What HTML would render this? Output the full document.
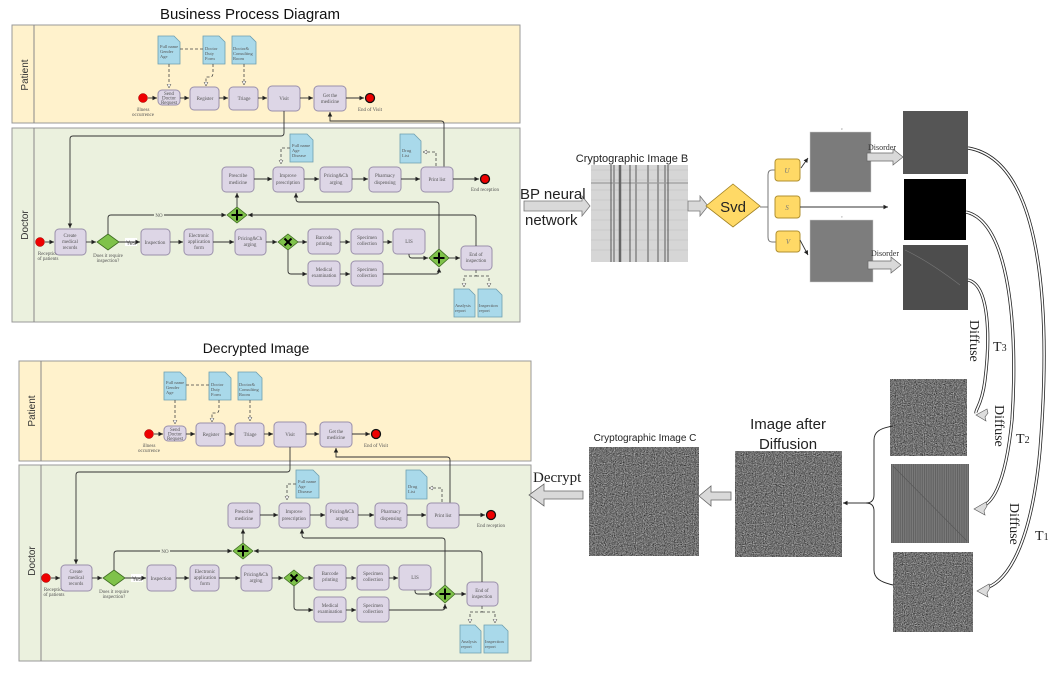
<!DOCTYPE html>
<html><head><meta charset="utf-8"><style>
html,body{margin:0;padding:0;background:#fff;}
svg{display:block;font-family:"Liberation Serif",serif;}
.s{font-family:"Liberation Sans",sans-serif;}
.b{fill:#ddd6e6;stroke:#9a90ab;stroke-width:1;}
.d{fill:#a9d9ea;stroke:#6e9fb0;stroke-width:.8;}
.t{font-size:5px;fill:#555;text-anchor:middle;}
.l{stroke:#333;stroke-width:.9;fill:none;}
.dl{stroke:#444;stroke-width:.8;fill:none;stroke-dasharray:3,2;}
.g{fill:#7fc24a;stroke:#3d6b20;stroke-width:.8;}
</style></head><body>
<svg width="1062" height="675" viewBox="0 0 1062 675" xmlns="http://www.w3.org/2000/svg">
<defs>
<marker id="a" markerWidth="6" markerHeight="6" refX="5" refY="3" orient="auto"><path d="M0,0.5 L5,3 L0,5.5z" fill="#222"/></marker>
<marker id="o" markerWidth="6" markerHeight="6" refX="5" refY="3" orient="auto"><path d="M0,0.5 L5,3 L0,5.5z" fill="#fff" stroke="#333" stroke-width=".6"/></marker>
<filter id="n" x="0" y="0" width="100%" height="100%" color-interpolation-filters="sRGB"><feTurbulence type="fractalNoise" baseFrequency="0.9" numOctaves="2" seed="3"/><feColorMatrix type="matrix" values="0.33 0.33 0.33 0 0 0.33 0.33 0.33 0 0 0.33 0.33 0.33 0 0 0 0 0 0 1"/><feComponentTransfer><feFuncR type="linear" slope="1.4" intercept="-0.25"/><feFuncG type="linear" slope="1.4" intercept="-0.25"/><feFuncB type="linear" slope="1.4" intercept="-0.25"/></feComponentTransfer></filter>
<pattern id="st" width="2.2" height="10" patternUnits="userSpaceOnUse"><rect width="2.2" height="10" fill="#7a7a7a"/><rect width="1" height="10" fill="#606060"/></pattern>
</defs>

<!-- ============ TOP DIAGRAM ============ -->
<text x="250" y="19" class="s" font-size="15" text-anchor="middle" fill="#111">Business Process Diagram</text>
<g>
<rect x="12" y="25" width="508" height="98" fill="#fff2cc" stroke="#999" stroke-width="1"/>
<line x1="34" y1="25" x2="34" y2="123" stroke="#888"/>
<rect x="12" y="128" width="508" height="194" fill="#ebf1de" stroke="#999" stroke-width="1"/>
<line x1="34" y1="128" x2="34" y2="322" stroke="#888"/>
<text transform="translate(28,75) rotate(-90)" class="s" font-size="10" text-anchor="middle" fill="#333">Patient</text>
<text transform="translate(28,225) rotate(-90)" class="s" font-size="10" text-anchor="middle" fill="#333">Doctor</text>
<path class="d" d="M158,36 h16 l6,6 v22 h-22z"/><text x="160" y="48" font-size="4.5" fill="#555">Full name</text><text x="160" y="53" font-size="4.5" fill="#555">Gender</text><text x="160" y="58" font-size="4.5" fill="#555">Age</text>
<path class="d" d="M203,36 h16 l6,6 v22 h-22z"/><text x="205" y="50" font-size="4.5" fill="#555">Doctor</text><text x="205" y="55" font-size="4.5" fill="#555">Duty</text><text x="205" y="60" font-size="4.5" fill="#555">Form</text>
<path class="d" d="M232,36 h18 l6,6 v22 h-24z"/><text x="233" y="50" font-size="4.5" fill="#555">Doctor&amp;</text><text x="233" y="55" font-size="4.5" fill="#555">Consulting</text><text x="233" y="60" font-size="4.5" fill="#555">Room</text>
<path class="dl" d="M169,64 V88" marker-end="url(#o)"/><path class="dl" d="M180,49 H203"/><path class="dl" d="M213,64 V73 Q213,77 210,77 H206 V86" marker-end="url(#o)"/><path class="dl" d="M244,64 V85" marker-end="url(#o)"/>
<circle cx="143" cy="98" r="4.5" fill="#e00" stroke="#900" stroke-width=".5"/>
<text x="143" y="111" class="t">illness</text><text x="143" y="116" class="t">occurrence</text>
<rect class="b" x="158" y="90" width="22" height="15" rx="4"/><text x="169" y="95" class="t">Send</text><text x="169" y="99.5" class="t">Doctor</text><text x="169" y="104" class="t">Request</text>
<rect class="b" x="190" y="87" width="29" height="23" rx="4"/><text x="205" y="100" class="t">Register</text>
<rect class="b" x="229" y="87" width="29" height="23" rx="4"/><text x="244" y="100" class="t">Triage</text>
<rect class="b" x="268" y="86" width="32" height="25" rx="4"/><text x="284" y="100" class="t">Visit</text>
<rect class="b" x="314" y="86" width="32" height="25" rx="4"/><text x="330" y="97" class="t">Get the</text><text x="330" y="103" class="t">medicine</text>
<circle cx="370" cy="98" r="4.5" fill="#e00" stroke="#111" stroke-width="1.3"/><text x="370" y="111" class="t">End of Visit</text>
<path class="l" d="M148,98 H157" marker-end="url(#a)"/><path class="l" d="M180,98 H189" marker-end="url(#a)"/><path class="l" d="M219,98 H228" marker-end="url(#a)"/><path class="l" d="M258,98 H267" marker-end="url(#a)"/><path class="l" d="M300,98 H313" marker-end="url(#a)"/><path class="l" d="M346,98 H364" marker-end="url(#a)"/>
<path class="l" d="M284,111 V133 Q284,136 281,136 H73 Q70,136 70,139 V228" marker-end="url(#a)"/>
<path class="l" d="M444,167 V124 Q444,121 441,121 H330 V112" marker-end="url(#a)"/>
<path class="d" d="M290,134 h17 l6,6 v22 h-23z"/><text x="292" y="147" font-size="4.5" fill="#555">Full name</text><text x="292" y="152" font-size="4.5" fill="#555">Age</text><text x="292" y="157" font-size="4.5" fill="#555">Disease</text>
<path class="d" d="M400,134 h14 l7,7 v22 h-21z"/><text x="402" y="152" font-size="4.5" fill="#555">Drug</text><text x="402" y="157" font-size="4.5" fill="#555">List</text>
<path class="dl" d="M290,148 H281 V164" marker-end="url(#o)"/><path class="dl" d="M436,166 V152 H423" marker-end="url(#o)"/>
<rect class="b" x="222" y="167" width="32" height="25" rx="4"/><text x="238" y="177" class="t">Prescribe</text><text x="238" y="184" class="t">medicine</text>
<rect class="b" x="273" y="167" width="31" height="25" rx="4"/><text x="288" y="177" class="t">Improve</text><text x="288" y="184" class="t">prescription</text>
<rect class="b" x="320" y="167" width="32" height="25" rx="4"/><text x="336" y="177" class="t">Pricing&amp;Ch</text><text x="336" y="184" class="t">arging</text>
<rect class="b" x="369" y="167" width="32" height="25" rx="4"/><text x="385" y="177" class="t">Pharmacy</text><text x="385" y="184" class="t">dispensing</text>
<rect class="b" x="421" y="167" width="32" height="25" rx="4"/><text x="437" y="181" class="t">Print list</text>
<circle cx="485" cy="179" r="4.5" fill="#e00" stroke="#111" stroke-width="1.3"/><text x="485" y="191" class="t">End reception</text>
<path class="l" d="M254,179 H272" marker-end="url(#a)"/><path class="l" d="M304,179 H319" marker-end="url(#a)"/><path class="l" d="M352,179 H368" marker-end="url(#a)"/><path class="l" d="M401,179 H420" marker-end="url(#a)"/><path class="l" d="M453,179 H479" marker-end="url(#a)"/>
<circle cx="40" cy="242" r="4.5" fill="#e00" stroke="#900" stroke-width=".5"/><text x="48" y="255" class="t">Reception</text><text x="48" y="260" class="t">of patients</text>
<rect class="b" x="55" y="229" width="31" height="26" rx="4"/><text x="70" y="237" class="t">Create</text><text x="70" y="243" class="t">medical</text><text x="70" y="249" class="t">records</text>
<path class="g" d="M108,234 L119,242 L108,250 L97,242z"/><text x="108" y="257" class="t">Does it require</text><text x="108" y="262" class="t">inspection?</text>
<rect x="125" y="238" width="12" height="8" fill="#fff"/><text x="131" y="245" class="s" font-size="6" text-anchor="middle" fill="#555">Yes</text>
<rect class="b" x="141" y="229" width="29" height="26" rx="4"/><text x="155" y="244" class="t">Inspection</text>
<rect class="b" x="184" y="229" width="29" height="26" rx="4"/><text x="199" y="237" class="t">Electronic</text><text x="199" y="243" class="t">application</text><text x="199" y="249" class="t">form</text>
<rect class="b" x="235" y="229" width="31" height="26" rx="4"/><text x="250" y="240" class="t">Pricing&amp;Ch</text><text x="250" y="246" class="t">arging</text>
<path class="g" d="M288,234 L298,242 L288,250 L278,242z"/><path d="M284.5,238.5 L291.5,245.5 M291.5,238.5 L284.5,245.5" stroke="#000" stroke-width="2"/>
<rect class="b" x="308" y="229" width="32" height="25" rx="4"/><text x="324" y="239" class="t">Barcode</text><text x="324" y="245" class="t">printing</text>
<rect class="b" x="351" y="229" width="32" height="25" rx="4"/><text x="367" y="239" class="t">Specimen</text><text x="367" y="245" class="t">collection</text>
<rect class="b" x="393" y="229" width="32" height="25" rx="4"/><text x="409" y="243" class="t">LIS</text>
<rect class="b" x="308" y="261" width="32" height="25" rx="4"/><text x="324" y="271" class="t">Medical</text><text x="324" y="277" class="t">examination</text>
<rect class="b" x="351" y="261" width="32" height="25" rx="4"/><text x="367" y="271" class="t">Specimen</text><text x="367" y="277" class="t">collection</text>
<path class="g" d="M439,249 L449,258 L439,267 L429,258z"/><path d="M439,252.5 V263.5 M433.5,258 H444.5" stroke="#000" stroke-width="2"/>
<rect class="b" x="461" y="246" width="31" height="24" rx="4"/><text x="476" y="256" class="t">End of</text><text x="476" y="262" class="t">inspection</text>
<path class="g" d="M237,207 L247,215 L237,223 L227,215z"/><path d="M237,209.5 V220.5 M231.5,215 H242.5" stroke="#000" stroke-width="2"/>
<path class="l" d="M45,242 H54" marker-end="url(#a)"/><path class="l" d="M86,242 H96" marker-end="url(#a)"/><path class="l" d="M119,242 H140" marker-end="url(#a)"/><path class="l" d="M170,242 H183" marker-end="url(#a)"/><path class="l" d="M213,242 H234" marker-end="url(#a)"/><path class="l" d="M266,242 H277" marker-end="url(#a)"/><path class="l" d="M298,242 H307" marker-end="url(#a)"/><path class="l" d="M340,242 H350" marker-end="url(#a)"/><path class="l" d="M383,242 H392" marker-end="url(#a)"/>
<path class="l" d="M288,250 V271 Q288,274 291,274 H307" marker-end="url(#a)"/><path class="l" d="M340,274 H350" marker-end="url(#a)"/>
<path class="l" d="M383,274 H436 Q439,274 439,271 V268" marker-end="url(#a)"/><path class="l" d="M409,254 V255 Q409,258 412,258 H428" marker-end="url(#a)"/><path class="l" d="M449,258 H460" marker-end="url(#a)"/>
<path class="l" d="M108,234 V218 Q108,215 111,215 H226" marker-end="url(#a)"/><rect x="154" y="211" width="10" height="7" fill="#ebf1de"/><text x="159" y="217" class="t">NO</text>
<path class="l" d="M476,246 V218 Q476,215 473,215 H248" marker-end="url(#a)"/>
<path class="l" d="M439,249 V205 Q439,202 436,202 H299 Q296,202 296,199 V193" marker-end="url(#a)"/>
<path class="l" d="M237,207 V193" marker-end="url(#a)"/>
<path class="d" d="M454,289 h15 l6,6 v22 h-21z"/><text x="455" y="307" font-size="4.5" fill="#555">Analysis</text><text x="455" y="312" font-size="4.5" fill="#555">report</text>
<path class="d" d="M478,289 h18 l6,6 v22 h-24z"/><text x="479" y="307" font-size="4.5" fill="#555">Inspection</text><text x="479" y="312" font-size="4.5" fill="#555">report</text>
<path class="dl" d="M476,270 V276 H464 V287" marker-end="url(#o)"/><path class="dl" d="M476,276 H489 V287" marker-end="url(#o)"/>
</g>

<!-- ============ BOTTOM DIAGRAM ============ -->
<text x="256" y="353" class="s" font-size="14" text-anchor="middle" fill="#111">Decrypted Image</text>
<g transform="translate(6,336)">
<rect x="13" y="25" width="512" height="100" fill="#fff2cc" stroke="#999" stroke-width="1"/>
<line x1="35" y1="25" x2="35" y2="125" stroke="#888"/>
<rect x="13" y="129" width="512" height="196" fill="#ebf1de" stroke="#999" stroke-width="1"/>
<line x1="35" y1="129" x2="35" y2="325" stroke="#888"/>
<text transform="translate(29,75) rotate(-90)" class="s" font-size="10" text-anchor="middle" fill="#333">Patient</text>
<text transform="translate(29,225) rotate(-90)" class="s" font-size="10" text-anchor="middle" fill="#333">Doctor</text>
<path class="d" d="M158,36 h16 l6,6 v22 h-22z"/><text x="160" y="48" font-size="4.5" fill="#555">Full name</text><text x="160" y="53" font-size="4.5" fill="#555">Gender</text><text x="160" y="58" font-size="4.5" fill="#555">Age</text>
<path class="d" d="M203,36 h16 l6,6 v22 h-22z"/><text x="205" y="50" font-size="4.5" fill="#555">Doctor</text><text x="205" y="55" font-size="4.5" fill="#555">Duty</text><text x="205" y="60" font-size="4.5" fill="#555">Form</text>
<path class="d" d="M232,36 h18 l6,6 v22 h-24z"/><text x="233" y="50" font-size="4.5" fill="#555">Doctor&amp;</text><text x="233" y="55" font-size="4.5" fill="#555">Consulting</text><text x="233" y="60" font-size="4.5" fill="#555">Room</text>
<path class="dl" d="M169,64 V88" marker-end="url(#o)"/><path class="dl" d="M180,49 H203"/><path class="dl" d="M213,64 V73 Q213,77 210,77 H206 V86" marker-end="url(#o)"/><path class="dl" d="M244,64 V85" marker-end="url(#o)"/>
<circle cx="143" cy="98" r="4.5" fill="#e00" stroke="#900" stroke-width=".5"/>
<text x="143" y="111" class="t">illness</text><text x="143" y="116" class="t">occurrence</text>
<rect class="b" x="158" y="90" width="22" height="15" rx="4"/><text x="169" y="95" class="t">Send</text><text x="169" y="99.5" class="t">Doctor</text><text x="169" y="104" class="t">Request</text>
<rect class="b" x="190" y="87" width="29" height="23" rx="4"/><text x="205" y="100" class="t">Register</text>
<rect class="b" x="229" y="87" width="29" height="23" rx="4"/><text x="244" y="100" class="t">Triage</text>
<rect class="b" x="268" y="86" width="32" height="25" rx="4"/><text x="284" y="100" class="t">Visit</text>
<rect class="b" x="314" y="86" width="32" height="25" rx="4"/><text x="330" y="97" class="t">Get the</text><text x="330" y="103" class="t">medicine</text>
<circle cx="370" cy="98" r="4.5" fill="#e00" stroke="#111" stroke-width="1.3"/><text x="370" y="111" class="t">End of Visit</text>
<path class="l" d="M148,98 H157" marker-end="url(#a)"/><path class="l" d="M180,98 H189" marker-end="url(#a)"/><path class="l" d="M219,98 H228" marker-end="url(#a)"/><path class="l" d="M258,98 H267" marker-end="url(#a)"/><path class="l" d="M300,98 H313" marker-end="url(#a)"/><path class="l" d="M346,98 H364" marker-end="url(#a)"/>
<path class="l" d="M284,111 V133 Q284,136 281,136 H73 Q70,136 70,139 V228" marker-end="url(#a)"/>
<path class="l" d="M444,167 V124 Q444,121 441,121 H330 V112" marker-end="url(#a)"/>
<path class="d" d="M290,134 h17 l6,6 v22 h-23z"/><text x="292" y="147" font-size="4.5" fill="#555">Full name</text><text x="292" y="152" font-size="4.5" fill="#555">Age</text><text x="292" y="157" font-size="4.5" fill="#555">Disease</text>
<path class="d" d="M400,134 h14 l7,7 v22 h-21z"/><text x="402" y="152" font-size="4.5" fill="#555">Drug</text><text x="402" y="157" font-size="4.5" fill="#555">List</text>
<path class="dl" d="M290,148 H281 V164" marker-end="url(#o)"/><path class="dl" d="M436,166 V152 H423" marker-end="url(#o)"/>
<rect class="b" x="222" y="167" width="32" height="25" rx="4"/><text x="238" y="177" class="t">Prescribe</text><text x="238" y="184" class="t">medicine</text>
<rect class="b" x="273" y="167" width="31" height="25" rx="4"/><text x="288" y="177" class="t">Improve</text><text x="288" y="184" class="t">prescription</text>
<rect class="b" x="320" y="167" width="32" height="25" rx="4"/><text x="336" y="177" class="t">Pricing&amp;Ch</text><text x="336" y="184" class="t">arging</text>
<rect class="b" x="369" y="167" width="32" height="25" rx="4"/><text x="385" y="177" class="t">Pharmacy</text><text x="385" y="184" class="t">dispensing</text>
<rect class="b" x="421" y="167" width="32" height="25" rx="4"/><text x="437" y="181" class="t">Print list</text>
<circle cx="485" cy="179" r="4.5" fill="#e00" stroke="#111" stroke-width="1.3"/><text x="485" y="191" class="t">End reception</text>
<path class="l" d="M254,179 H272" marker-end="url(#a)"/><path class="l" d="M304,179 H319" marker-end="url(#a)"/><path class="l" d="M352,179 H368" marker-end="url(#a)"/><path class="l" d="M401,179 H420" marker-end="url(#a)"/><path class="l" d="M453,179 H479" marker-end="url(#a)"/>
<circle cx="40" cy="242" r="4.5" fill="#e00" stroke="#900" stroke-width=".5"/><text x="48" y="255" class="t">Reception</text><text x="48" y="260" class="t">of patients</text>
<rect class="b" x="55" y="229" width="31" height="26" rx="4"/><text x="70" y="237" class="t">Create</text><text x="70" y="243" class="t">medical</text><text x="70" y="249" class="t">records</text>
<path class="g" d="M108,234 L119,242 L108,250 L97,242z"/><text x="108" y="257" class="t">Does it require</text><text x="108" y="262" class="t">inspection?</text>
<rect x="125" y="238" width="12" height="8" fill="#fff"/><text x="131" y="245" class="s" font-size="6" text-anchor="middle" fill="#555">Yes</text>
<rect class="b" x="141" y="229" width="29" height="26" rx="4"/><text x="155" y="244" class="t">Inspection</text>
<rect class="b" x="184" y="229" width="29" height="26" rx="4"/><text x="199" y="237" class="t">Electronic</text><text x="199" y="243" class="t">application</text><text x="199" y="249" class="t">form</text>
<rect class="b" x="235" y="229" width="31" height="26" rx="4"/><text x="250" y="240" class="t">Pricing&amp;Ch</text><text x="250" y="246" class="t">arging</text>
<path class="g" d="M288,234 L298,242 L288,250 L278,242z"/><path d="M284.5,238.5 L291.5,245.5 M291.5,238.5 L284.5,245.5" stroke="#000" stroke-width="2"/>
<rect class="b" x="308" y="229" width="32" height="25" rx="4"/><text x="324" y="239" class="t">Barcode</text><text x="324" y="245" class="t">printing</text>
<rect class="b" x="351" y="229" width="32" height="25" rx="4"/><text x="367" y="239" class="t">Specimen</text><text x="367" y="245" class="t">collection</text>
<rect class="b" x="393" y="229" width="32" height="25" rx="4"/><text x="409" y="243" class="t">LIS</text>
<rect class="b" x="308" y="261" width="32" height="25" rx="4"/><text x="324" y="271" class="t">Medical</text><text x="324" y="277" class="t">examination</text>
<rect class="b" x="351" y="261" width="32" height="25" rx="4"/><text x="367" y="271" class="t">Specimen</text><text x="367" y="277" class="t">collection</text>
<path class="g" d="M439,249 L449,258 L439,267 L429,258z"/><path d="M439,252.5 V263.5 M433.5,258 H444.5" stroke="#000" stroke-width="2"/>
<rect class="b" x="461" y="246" width="31" height="24" rx="4"/><text x="476" y="256" class="t">End of</text><text x="476" y="262" class="t">inspection</text>
<path class="g" d="M237,207 L247,215 L237,223 L227,215z"/><path d="M237,209.5 V220.5 M231.5,215 H242.5" stroke="#000" stroke-width="2"/>
<path class="l" d="M45,242 H54" marker-end="url(#a)"/><path class="l" d="M86,242 H96" marker-end="url(#a)"/><path class="l" d="M119,242 H140" marker-end="url(#a)"/><path class="l" d="M170,242 H183" marker-end="url(#a)"/><path class="l" d="M213,242 H234" marker-end="url(#a)"/><path class="l" d="M266,242 H277" marker-end="url(#a)"/><path class="l" d="M298,242 H307" marker-end="url(#a)"/><path class="l" d="M340,242 H350" marker-end="url(#a)"/><path class="l" d="M383,242 H392" marker-end="url(#a)"/>
<path class="l" d="M288,250 V271 Q288,274 291,274 H307" marker-end="url(#a)"/><path class="l" d="M340,274 H350" marker-end="url(#a)"/>
<path class="l" d="M383,274 H436 Q439,274 439,271 V268" marker-end="url(#a)"/><path class="l" d="M409,254 V255 Q409,258 412,258 H428" marker-end="url(#a)"/><path class="l" d="M449,258 H460" marker-end="url(#a)"/>
<path class="l" d="M108,234 V218 Q108,215 111,215 H226" marker-end="url(#a)"/><rect x="154" y="211" width="10" height="7" fill="#ebf1de"/><text x="159" y="217" class="t">NO</text>
<path class="l" d="M476,246 V218 Q476,215 473,215 H248" marker-end="url(#a)"/>
<path class="l" d="M439,249 V205 Q439,202 436,202 H299 Q296,202 296,199 V193" marker-end="url(#a)"/>
<path class="l" d="M237,207 V193" marker-end="url(#a)"/>
<path class="d" d="M454,289 h15 l6,6 v22 h-21z"/><text x="455" y="307" font-size="4.5" fill="#555">Analysis</text><text x="455" y="312" font-size="4.5" fill="#555">report</text>
<path class="d" d="M478,289 h18 l6,6 v22 h-24z"/><text x="479" y="307" font-size="4.5" fill="#555">Inspection</text><text x="479" y="312" font-size="4.5" fill="#555">report</text>
<path class="dl" d="M476,270 V276 H464 V287" marker-end="url(#o)"/><path class="dl" d="M476,276 H489 V287" marker-end="url(#o)"/>
</g>

<!-- ============ RIGHT SIDE ============ -->
<path d="M524,201 H582 V196 L590,206 L582,216 V211 H524z" fill="#d9d9d9" stroke="#777" stroke-width=".8"/>
<text x="520" y="199" class="s" font-size="15" fill="#222">BP neural</text>
<text x="525" y="225" class="s" font-size="15" fill="#222">network</text>
<text x="632" y="162" class="s" font-size="11" text-anchor="middle" fill="#222">Cryptographic Image B</text>
<rect x="591" y="165" width="97" height="97" fill="#d6d6d6"/>
<g stroke="#bbb" stroke-width=".6">
<line x1="591" y1="170" x2="688" y2="170"/><line x1="591" y1="180" x2="688" y2="180"/><line x1="591" y1="190" x2="688" y2="190"/><line x1="591" y1="200" x2="688" y2="200"/><line x1="591" y1="210" x2="688" y2="210"/><line x1="591" y1="220" x2="688" y2="220"/><line x1="591" y1="230" x2="688" y2="230"/><line x1="591" y1="240" x2="688" y2="240"/><line x1="591" y1="250" x2="688" y2="250"/>
</g>
<line x1="591" y1="183" x2="688" y2="183" stroke="#777" stroke-width=".8"/>
<g stroke="#999" stroke-width="2"><line x1="614" y1="165" x2="614" y2="262"/><line x1="636" y1="165" x2="636" y2="262"/><line x1="648" y1="165" x2="648" y2="262"/><line x1="658" y1="165" x2="658" y2="262"/><line x1="665" y1="165" x2="665" y2="262"/></g>
<g stroke="#555" stroke-width="1"><line x1="611" y1="165" x2="611" y2="262"/><line x1="630" y1="165" x2="630" y2="262"/><line x1="668" y1="165" x2="668" y2="262"/></g>
<line x1="620" y1="165" x2="620" y2="262" stroke="#666" stroke-width="2.5"/>
<path d="M688,201 H700 V196 L708,206 L700,216 V211 H688z" fill="#d9d9d9" stroke="#777" stroke-width=".8"/>
<path d="M733,184 L760,206 L733,227 L706,206z" fill="#ffd966" stroke="#a08020" stroke-width=".8"/>
<text x="733" y="212" class="s" font-size="15" text-anchor="middle" fill="#222">Svd</text>
<path d="M760,207 H768" stroke="#777" fill="none"/>
<path d="M775,170 H772 Q768,170 768,175 V237 Q768,242 772,242 H776" stroke="#777" fill="none"/>
<rect x="775" y="159" width="25" height="22" rx="3" fill="#ffd966" stroke="#b09030"/><text x="787" y="173" font-size="7" font-style="italic" text-anchor="middle" fill="#777">U</text>
<rect x="775" y="196" width="25" height="22" rx="3" fill="#ffd966" stroke="#b09030"/><text x="787" y="210" font-size="7" font-style="italic" text-anchor="middle" fill="#777">S</text>
<rect x="776" y="231" width="24" height="21" rx="3" fill="#ffd966" stroke="#b09030"/><text x="788" y="244" font-size="7" font-style="italic" text-anchor="middle" fill="#777">V</text>
<path class="l" d="M801,168 L808,158" marker-end="url(#a)"/><path class="l" d="M800,240 L808,255" marker-end="url(#a)"/>
<path class="l" d="M800,207 H888" marker-end="url(#a)"/>
<rect x="810" y="132" width="61" height="60" fill="#7b7b7b" stroke="#ccc" stroke-width=".5"/>
<rect x="810" y="220" width="63" height="62" fill="#7d7d7d" stroke="#ccc" stroke-width=".5"/>
<text x="842" y="130" font-size="3" text-anchor="middle" fill="#888">U</text><text x="842" y="218" font-size="3" text-anchor="middle" fill="#888">V</text>
<path d="M867,153 H893 V149 L903,157 L893,165 V161 H867z" fill="#d9d9d9" stroke="#666" stroke-width=".7"/>
<text x="868" y="150" font-size="8" fill="#333">Disorder</text>
<path d="M868,261 H891 V257 L901,265 L891,273 V269 H868z" fill="#d9d9d9" stroke="#666" stroke-width=".7"/>
<text x="871" y="256" font-size="8" fill="#333">Disorder</text>
<rect x="903" y="111" width="65" height="63" fill="#555"/>
<rect x="904" y="179" width="62" height="61" fill="#000"/>
<rect x="903" y="245" width="65" height="65" fill="#4d4d4d"/>
<path d="M905,250 Q930,262 960,285" stroke="#777" stroke-width=".6" fill="none"/>
<g fill="none">
<path d="M968,148 C1040,160 1052,300 1040,450 C1030,560 1000,585 985,588" stroke="#222" stroke-width="3.2"/>
<path d="M968,148 C1040,160 1052,300 1040,450 C1030,560 1000,585 985,588" stroke="#fff" stroke-width="1.6"/>
<path d="M966,212 C1010,222 1018,330 1012,420 C1005,490 990,505 980,507" stroke="#222" stroke-width="3.2"/>
<path d="M966,212 C1010,222 1018,330 1012,420 C1005,490 990,505 980,507" stroke="#fff" stroke-width="1.6"/>
<path d="M968,280 C990,285 990,340 985,380 C982,405 975,410 976,413" stroke="#222" stroke-width="3.2"/>
<path d="M968,280 C990,285 990,340 985,380 C982,405 975,410 976,413" stroke="#fff" stroke-width="1.6"/>
</g>
<path d="M987,409 L976,415 L986,421 L985,417 L988,413z" fill="#ddd" stroke="#555" stroke-width=".6"/>
<path d="M986,502 L974,509 L985,515 L984,511 L987,506z" fill="#ddd" stroke="#555" stroke-width=".6"/>
<path d="M989,584 L977,591 L988,597 L987,593 L990,588z" fill="#ddd" stroke="#555" stroke-width=".6"/>
<text transform="translate(970,320) rotate(90)" font-size="14" fill="#222">Diffuse</text>
<text x="993" y="351" font-size="14" fill="#222">T<tspan font-size="10">3</tspan></text>
<text transform="translate(995,405) rotate(90)" font-size="14" fill="#222">Diffuse</text>
<text x="1016" y="443" font-size="14" fill="#222">T<tspan font-size="10">2</tspan></text>
<text transform="translate(1010,503) rotate(90)" font-size="14" fill="#222">Diffuse</text>
<text x="1035" y="540" font-size="14" fill="#222">T<tspan font-size="10">1</tspan></text>
<rect x="890" y="379" width="77" height="77" fill="#777" filter="url(#n)"/>
<rect x="891" y="464" width="78" height="79" fill="url(#st)"/>
<line x1="893" y1="466" x2="967" y2="541" stroke="#555" stroke-width=".6"/>
<rect x="893" y="552" width="80" height="80" fill="#777" filter="url(#n)"/>
<path d="M893,426 C880,428 874,432 874,440 V495 Q874,503 866,503 Q874,503 874,511 V570 C874,578 880,582 893,585" fill="none" stroke="#222" stroke-width=".9"/>
<path class="l" d="M866,503 H843" marker-end="url(#a)"/>
<rect x="735" y="451" width="107" height="106" fill="#777" filter="url(#n)"/>
<text x="788" y="429" class="s" font-size="15" text-anchor="middle" fill="#222">Image after</text>
<text x="788" y="449" class="s" font-size="15" text-anchor="middle" fill="#222">Diffusion</text>
<path d="M731,492 H711 V486 L699,496 L711,506 V500 H731z" fill="#d9d9d9" stroke="#666" stroke-width=".8"/>
<rect x="589" y="447" width="110" height="109" fill="#777" filter="url(#n)"/>
<text x="645" y="441" class="s" font-size="10" text-anchor="middle" fill="#222">Cryptographic Image C</text>
<path d="M583,491 H544 V484 L529,495 L544,506 V499 H583z" fill="#d9d9d9" stroke="#666" stroke-width=".8"/>
<text x="533" y="482" font-size="15" fill="#222">Decrypt</text>
</svg>
</body></html>
